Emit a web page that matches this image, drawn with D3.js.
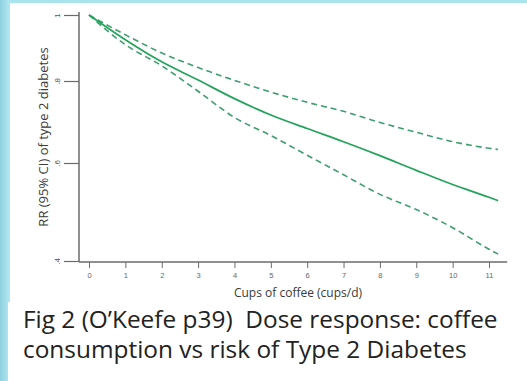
<!DOCTYPE html>
<html>
<head>
<meta charset="utf-8">
<script src="https://cdn.jsdelivr.net/npm/d3@7"></script>
<style>
  body { margin: 0; background: #fff; }
  svg { display: block; }
</style>
</head>
<body>
<div id="chart"></div>
<script>
// data (cups/day vs relative risk)
var cups = [0, 1, 2, 3, 4, 5, 6, 7, 8, 9, 10, 11, 11.25];
var rrMid = [1.0, 0.925, 0.858, 0.803, 0.757, 0.717, 0.684, 0.652, 0.618, 0.585, 0.556, 0.530, 0.523];
var rrUpper = [1.0, 0.94, 0.885, 0.841, 0.802, 0.773, 0.748, 0.726, 0.699, 0.675, 0.652, 0.636, 0.633];
var rrLower = [1.0, 0.91, 0.846, 0.775, 0.711, 0.667, 0.619, 0.576, 0.536, 0.505, 0.468, 0.424, 0.414];
var xTicks = [0, 1, 2, 3, 4, 5, 6, 7, 8, 9, 10, 11];
var yTicks = [0.4, 0.6, 0.8, 1];
var captionLines = ["Fig 2 (O\u2019Keefe p39)  Dose response: coffee",
  "consumption vs risk of Type 2 Diabetes"];

var W = 527, H = 381;

var svg = d3.select("#chart")
  .append("svg")
  .attr("width", W)
  .attr("height", H);

// slide background + pasted picture
svg.append("rect").attr("width", W).attr("height", H).attr("fill", "#a9e4ee");
var grad = svg.append("defs").append("linearGradient").attr("id", "edge");
grad.append("stop").attr("offset", "0%").attr("stop-color", "#8fd0e0");
grad.append("stop").attr("offset", "100%").attr("stop-color", "#b3e8f1");
svg.append("rect").attr("x", 0).attr("y", 0).attr("width", 10).attr("height", H).attr("fill", "url(#edge)");
svg.append("rect").attr("x", 10).attr("y", 3).attr("width", W - 10).attr("height", 299).attr("fill", "#fff");
svg.append("rect").attr("x", 8).attr("y", 302).attr("width", W - 8).attr("height", H - 302).attr("fill", "#fff");

// scales
var x = d3.scaleLinear().domain([0, 11]).range([89, 489]);
var y = d3.scaleLinear().domain([0.4, 0.6, 0.8, 1]).range([261, 163, 81, 15]);

var axisColor = "#6b6b6b";
var x0 = x(-0.275), x1 = x(11.5);
var yBottom = y(0.4) + 1, yTop = y(1) - 3;

// y axis
var yAxis = svg.append("g")
  .attr("transform", "translate(" + x0 + ",0)")
  .call(d3.axisLeft(y).tickValues(yTicks).tickSize(15)
    .tickFormat(function (d) { return d === 1 ? "1" : d3.format(".1f")(d).replace(/^0/, ""); }));
yAxis.select(".domain").remove();
yAxis.selectAll(".tick line").attr("stroke", axisColor).attr("stroke-width", 1.2);
yAxis.selectAll(".tick text")
  .attr("x", null)
  .attr("dy", null)
  .attr("text-anchor", "middle")
  .attr("transform", "translate(-19.5,0) rotate(-90)")
  .attr("fill", "#555")
  .style("font-family", "'Liberation Sans', sans-serif")
  .style("font-size", "8px");

// x axis
var xAxis = svg.append("g")
  .attr("transform", "translate(0," + (yBottom) + ")")
  .call(d3.axisBottom(x).tickValues(xTicks).tickSize(6).tickPadding(5));
xAxis.select(".domain").remove();
xAxis.selectAll(".tick line").attr("stroke", axisColor).attr("stroke-width", 1);
xAxis.selectAll(".tick text")
  .attr("fill", "#666")
  .style("font-family", "'Liberation Sans', sans-serif")
  .style("font-size", "7.5px");

svg.append("line")
  .attr("x1", x0).attr("x2", x0).attr("y1", yTop).attr("y2", yBottom)
  .attr("stroke", axisColor).attr("stroke-width", 1.5);
svg.append("line")
  .attr("x1", x0).attr("x2", x1).attr("y1", yBottom).attr("y2", yBottom)
  .attr("stroke", axisColor).attr("stroke-width", 1.5);

// axis titles
svg.append("text")
  .attr("x", 298)
  .attr("y", 297)
  .attr("text-anchor", "middle")
  .attr("fill", "#3a3a3a")
  .style("font-family", "'Open Sans', sans-serif")
  .style("font-size", "12px")
  .text("Cups of coffee (cups/d)");

svg.append("text")
  .attr("transform", "translate(47.5,137) rotate(-90)")
  .attr("text-anchor", "middle")
  .attr("fill", "#3a3a3a")
  .style("font-family", "'Open Sans', sans-serif")
  .style("font-size", "13px")
  .text("RR (95% CI) of type 2 diabetes");

// curves
var line = d3.line()
  .x(function (d) { return x(d[0]); })
  .y(function (d) { return y(d[1]); })
  .curve(d3.curveMonotoneX);

function pairs(vals) { return cups.map(function (c, i) { return [c, vals[i]]; }); }

[rrUpper, rrLower].forEach(function (vals) {
  svg.append("path")
    .attr("d", line(pairs(vals)))
    .attr("fill", "none")
    .attr("stroke", "#3f9e6e")
    .attr("stroke-width", 1.6)
    .attr("stroke-dasharray", "6,4");
});
svg.append("path")
  .attr("d", line(pairs(rrMid)))
  .attr("fill", "none")
  .attr("stroke", "#23a35b")
  .attr("stroke-width", 1.7);

// caption
var caption = svg.selectAll(".caption")
  .data(captionLines)
  .enter()
  .append("text")
  .attr("class", "caption")
  .attr("x", 23)
  .attr("y", function (d, i) { return 328 + i * 30; })
  .attr("fill", "#222")
  .style("white-space", "pre")
  .style("font-family", "'Open Sans', sans-serif")
  .style("font-size", "21px")
  .text(function (d) { return d; });

// fit the first line to the width it has in the figure
var w0 = caption.node().getComputedTextLength();
caption.style("font-size", (21 * 475 / w0) + "px");
</script>
</body>
</html>
